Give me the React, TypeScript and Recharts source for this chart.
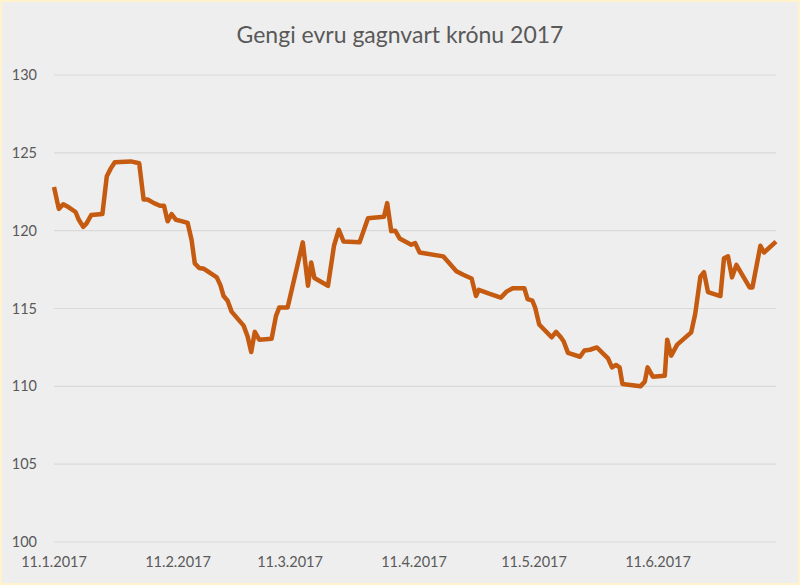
import { CartesianGrid, Line, LineChart, XAxis, YAxis } from "recharts";

// day offset from 11.1.2017 and the EUR/ISK rate
const days = [
  0, 1.2, 2.3, 3.7, 5.4, 6.2, 7.3, 8.1, 9.3, 12.1, 13.2, 14.2, 15.2, 19.2, 21.3, 22.4, 23.4, 25, 26.5, 27.5,
  28.4, 29.4, 30.5, 32.1, 33.4, 34.4, 35.2, 36.3, 37.5, 39.2, 40.7, 41.6, 42.4, 43.4, 44.4, 45.9, 47.4, 48.4,
  49.3, 50.2, 51.3, 54.4, 55.5, 56.3, 58.4, 62.2, 63.5, 64.3, 65.1, 68.5, 70, 71.2, 72.4, 76.4, 78.5, 82.5,
  83.3, 84.3, 85.3, 86.4, 89.3, 90.3, 91.4, 97.3, 100.6, 102.3, 104.4, 105.5, 106.2, 108.6, 111.7, 113.2,
  114.7, 117.6, 118.4, 119.6, 120.3, 121.3, 124.4, 125.5, 126.7, 127.4, 128.5, 131.5, 132.6, 134, 135.7,
  138.5, 139.5, 140.5, 141.4, 142.1, 146.6, 147.7, 148.4, 149.7, 152.7, 153.3, 154.3, 155.8, 159.3, 160.3,
  161.6, 162.5, 163.5, 166.6, 167.5, 168.5, 169.5, 170.6, 173.9, 174.6, 176.6, 177.5, 180.5,
];
const rates = [
  122.8, 121.4, 121.7, 121.5, 121.2, 120.7, 120.25, 120.45, 121.0, 121.07, 123.5, 124.0, 124.4, 124.45, 124.33,
  122.0, 122.0, 121.77, 121.6, 121.6, 120.6, 121.07, 120.7, 120.6, 120.5, 119.4, 117.9, 117.6, 117.55, 117.25,
  117.0, 116.5, 115.8, 115.5, 114.8, 114.35, 113.9, 113.2, 112.2, 113.5, 113.0, 113.05, 114.53, 115.06, 115.06,
  119.25, 116.46, 117.96, 116.96, 116.46, 119.03, 120.06, 119.3, 119.25, 120.8, 120.9, 121.77, 119.97, 120.0,
  119.5, 119.1, 119.2, 118.6, 118.35, 117.4, 117.17, 116.93, 115.8, 116.2, 115.97, 115.7, 116.1, 116.3, 116.3,
  115.6, 115.5, 115.05, 113.97, 113.15, 113.5, 113.15, 112.9, 112.15, 111.9, 112.3, 112.35, 112.5, 111.8,
  111.22, 111.37, 111.22, 110.15, 110.0, 110.3, 111.22, 110.62, 110.68, 113.0, 111.97, 112.68, 113.47, 114.65,
  117.05, 117.33, 116.05, 115.8, 118.23, 118.35, 117.0, 117.8, 116.35, 116.35, 119.03, 118.6, 119.3,
];

const tickDays = [0, 31, 59, 90, 120, 151];
const tickLabels = ["11.1.2017", "11.2.2017", "11.3.2017", "11.4.2017", "11.5.2017", "11.6.2017"];
const yTicks = [100, 105, 110, 115, 120, 125, 130];

const data = days.map((day, i) => ({ day, rate: rates[i] }));

const font = "Lato, 'Open Sans', sans-serif";

export default function App() {
  return (
    <div
      style={{
        position: "fixed",
        left: 0,
        top: 0,
        width: 800,
        height: 585,
        boxSizing: "border-box",
        background: "#eeeeee",
        border: "2px solid #fff2cc",
        fontFamily: font,
      }}
    >
      <div
        style={{
          position: "absolute",
          left: 0,
          right: 0,
          top: 21,
          textAlign: "center",
          fontSize: 23,
          lineHeight: "23px",
          color: "#595959",
        }}
      >
        Gengi evru gagnvart krónu 2017
      </div>
      <div style={{ position: "absolute", left: -2, top: -2 }}>
        <LineChart width={800} height={585} data={data} margin={{ top: 75, right: 24, bottom: 13, left: 0 }}>
          <CartesianGrid vertical={false} stroke="#d9d9d9" strokeWidth={1.2} />
          <XAxis
            dataKey="day"
            type="number"
            domain={[0, 180.5]}
            ticks={tickDays}
            tickFormatter={(d: number) => tickLabels[tickDays.indexOf(d)]}
            axisLine={false}
            tickLine={false}
            tickSize={0}
            tickMargin={15}
            height={30}
            interval={0}
            tick={{ fill: "#595959", fontSize: 14.5, fontFamily: font }}
          />
          <YAxis
            domain={[100, 130]}
            ticks={yTicks}
            axisLine={false}
            tickLine={false}
            tickSize={0}
            tickMargin={17}
            width={54}
            tick={{ fill: "#595959", fontSize: 14.5, fontFamily: font }}
          />
          <Line
            type="linear"
            dataKey="rate"
            stroke="#c55a11"
            strokeWidth={4.5}
            strokeLinejoin="round"
            dot={false}
            isAnimationActive={false}
          />
        </LineChart>
      </div>
    </div>
  );
}
